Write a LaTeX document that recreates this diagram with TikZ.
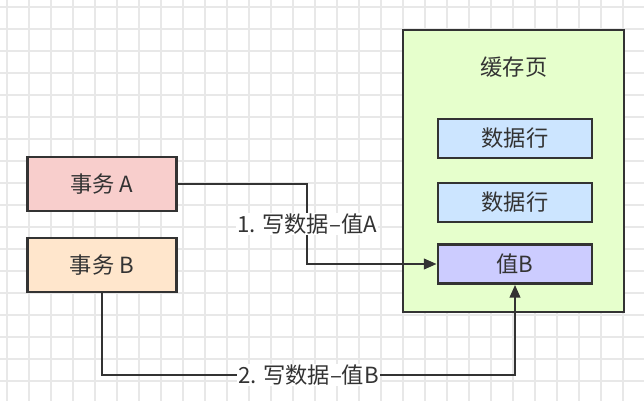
\documentclass[tikz,border=0pt]{standalone}
\usepackage{fontspec}
\setmainfont{Noto Sans CJK SC}
\usetikzlibrary{arrows.meta}

\definecolor{inkgray}{HTML}{333333}
\definecolor{gridgray}{HTML}{E8E8E8}
\definecolor{txred}{HTML}{F8CECC}
\definecolor{txorange}{HTML}{FFE6CC}
\definecolor{pagegreen}{HTML}{E6FFCC}
\definecolor{rowblue}{HTML}{CCE5FF}
\definecolor{valpurple}{HTML}{CCCCFF}

\tikzset{
  box/.style={draw=inkgray, line width=2.3pt, inner sep=0pt, text=inkgray,
    font=\fontsize{19}{21}\selectfont},
  txbox/.style={box, minimum width=4.47cm, minimum height=1.62cm},
  rowbox/.style={box, minimum width=4.62cm, minimum height=1.17cm},
  flow/.style={draw=inkgray, line width=2.1pt,
    -{Triangle[length=11pt, width=9pt]}},
  lbl/.style={fill=white, text=inkgray, inner sep=1pt,
    font=\fontsize{19}{21}\selectfont}
}

\begin{document}
\begin{tikzpicture}[x=0.03cm, y=-0.03cm]
	\useasboundingbox (0,0) rectangle (644,401);
	\fill[white] (0,0) rectangle (644,401);

	% background grid
	\foreach \x in {7, 29, ..., 644}
		\draw[gridgray, line width=1pt] (\x,0) -- (\x,401);
	\foreach \y in {7, 29, ..., 401}
		\draw[gridgray, line width=1pt] (0,\y) -- (644,\y);

	% transactions
	\node[txbox, fill=txred] (txa) at (102,184) {事务 A};
	\node[txbox, fill=txorange] (txb) at (102,265) {事务 B};

	% cache page
	\node[box, fill=pagegreen, minimum width=6.63cm, minimum height=8.46cm] (page) at (513.5,171) {};
	\node[text=inkgray, font=\fontsize{19}{21}\selectfont] (title) at (514,67) {缓存页};
	\node[rowbox, fill=rowblue] (row1) at (515,138.5) {数据行};
	\node[rowbox, fill=rowblue] (row2) at (515,202.5) {数据行};
	\node[rowbox, fill=valpurple] (valb) at (515,264) {值B};

	% writes
	\coordinate (bendA) at (307,184);
	\coordinate (lowB) at (0,375);
	\draw[flow] (txa.east) -- (bendA) -- node[lbl] {1. 写数据–值A} (bendA |- valb.west) -- (valb.west);
	\draw[flow] (txb.south) -- (txb.south |- lowB) -- node[lbl] {2. 写数据–值B} (valb.south |- lowB) -- (valb.south);
\end{tikzpicture}
\end{document}
